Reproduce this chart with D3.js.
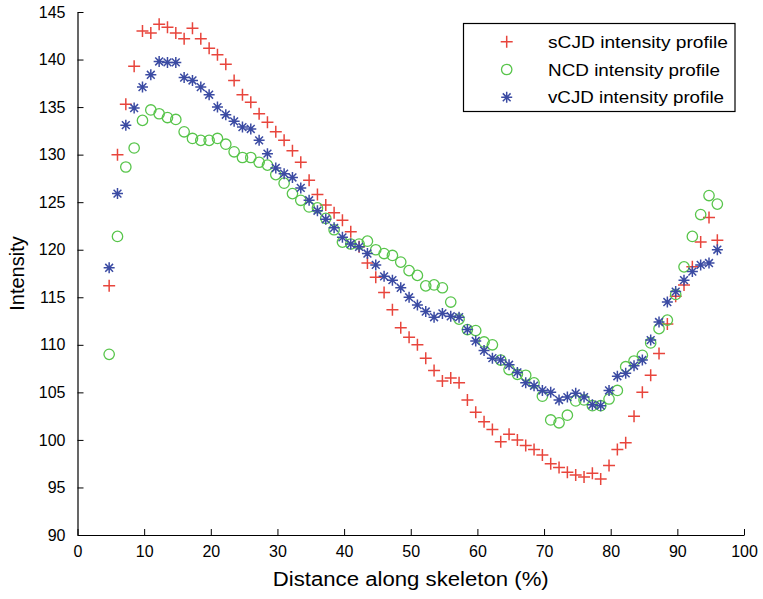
<!DOCTYPE html>
<html>
<head>
<meta charset="utf-8">
<script src="https://cdn.jsdelivr.net/npm/d3@7"></script>
<style>
  html, body { margin: 0; padding: 0; background: #fff; }
  svg { display: block; font-family: "Liberation Sans", Arial, Helvetica, sans-serif; }
</style>
</head>
<body>
<svg id="chart" width="763" height="599"></svg>
<script>
// Sample positions along the skeleton (%)
const distance = [4.75, 6, 7.25, 8.5, 9.75, 11, 12.25, 13.5, 14.75, 16,
  17.25, 18.5, 19.75, 21, 22.25, 23.5, 24.75, 26, 27.25, 28.5,
  29.75, 31, 32.25, 33.5, 34.75, 36, 37.25, 38.5, 39.75, 41,
  42.25, 43.5, 44.75, 46, 47.25, 48.5, 49.75, 51, 52.25, 53.5,
  54.75, 56, 57.25, 58.5, 59.75, 61, 62.25, 63.5, 64.75, 66,
  67.25, 68.5, 69.75, 71, 72.25, 73.5, 74.75, 76, 77.25, 78.5,
  79.75, 81, 82.25, 83.5, 84.75, 86, 87.25, 88.5, 89.75, 91,
  92.25, 93.5, 94.75, 96];

// Mean intensity profiles
const sCJD = [116.2, 130.0, 135.3, 139.3, 143.0, 142.8, 143.7, 143.4, 142.8, 142.2,
  143.3, 142.2, 141.2, 140.5, 139.5, 137.8, 136.3, 135.5, 134.3, 133.4,
  132.4, 131.5, 130.4, 129.2, 127.3, 125.8, 124.7, 123.9, 123.1, 121.9,
  120.3, 118.6, 117.1, 115.5, 113.7, 111.8, 110.8, 110.0, 108.6, 107.3,
  106.2, 106.5, 106.0, 104.2, 102.9, 101.9, 101.1, 99.8, 100.6, 100.0,
  99.4, 99.0, 98.4, 97.5, 97.1, 96.6, 96.3, 96.1, 96.5, 95.9,
  97.3, 99.0, 99.7, 102.5, 105.0, 106.8, 109.1, 112.2, 115.1, 116.3,
  118.2, 120.8, 123.4, 121.0];

const NCD = [109.0, 121.4, 128.7, 130.7, 133.6, 134.7, 134.3, 133.9, 133.7, 132.4,
  131.7, 131.5, 131.5, 131.7, 131.1, 130.3, 129.7, 129.7, 129.2, 128.9,
  127.9, 127.0, 125.9, 125.2, 124.5, 124.4, 123.3, 122.1, 120.8, 120.6,
  120.6, 120.9, 120.0, 119.6, 119.4, 118.7, 117.8, 117.3, 116.2, 116.3,
  116.0, 114.5, 112.7, 111.6, 111.5, 110.3, 110.0, 108.4, 107.4, 106.9,
  106.8, 106.0, 104.6, 102.1, 101.8, 102.6, 104.1, 104.2, 103.6, 103.6,
  104.3, 105.2, 107.7, 108.3, 108.9, 110.2, 111.7, 112.6, 115.3, 118.2,
  121.4, 123.7, 125.7, 124.8];

const vCJD = [118.1, 125.9, 133.1, 134.9, 137.1, 138.4, 139.8, 139.7, 139.7, 138.1,
  137.8, 137.1, 136.3, 135.0, 134.2, 133.5, 132.9, 132.7, 131.5, 130.1,
  128.6, 128.0, 127.6, 126.5, 125.2, 124.1, 123.2, 122.3, 121.3, 120.6,
  120.3, 119.6, 118.4, 117.2, 116.8, 116.0, 115.0, 114.2, 113.5, 112.9,
  113.3, 113.0, 112.9, 111.6, 110.4, 109.4, 108.6, 108.4, 107.9, 107.1,
  106.0, 105.7, 105.2, 105.0, 104.2, 104.5, 104.9, 104.5, 103.7, 103.6,
  105.2, 106.7, 107.0, 107.8, 108.4, 110.5, 112.4, 114.5, 115.6, 116.8,
  117.7, 118.4, 118.6, 120.0];

const xTicks = [0, 10, 20, 30, 40, 50, 60, 70, 80, 90, 100];
const yTicks = [90, 95, 100, 105, 110, 115, 120, 125, 130, 135, 140, 145];

const seriesNames = ["sCJD intensity profile", "NCD intensity profile", "vCJD intensity profile"];
const seriesColors = ["#e8453c", "#58c54b", "#3b4ba3"];
const seriesShapes = ["plus", "circle", "star"];
const seriesValues = [sCJD, NCD, vCJD];

const svg = d3.select("#chart");
const margin = { left: 77.5, right: 19, top: 12, bottom: 64 };
const W = 763, H = 599;

const x = d3.scaleLinear().domain([0, 100]).range([margin.left, W - margin.right]);
const y = d3.scaleLinear().domain([90, 145]).range([H - margin.bottom, margin.top]);

// Marker painters
function drawMarker(g, shape, color) {
  if (shape === "plus") {
    g.append("path").attr("d", "M-6,0H6M0,-6V6")
      .attr("stroke", color).attr("stroke-width", 1.5).attr("fill", "none");
  } else if (shape === "circle") {
    g.append("circle").attr("r", 5.2)
      .attr("stroke", color).attr("stroke-width", 1.3).attr("fill", "none");
  } else {
    g.append("path").attr("d", "M-5.5,0H5.5M0,-5.5V5.5M-3.9,-3.9L3.9,3.9M-3.9,3.9L3.9,-3.9")
      .attr("stroke", color).attr("stroke-width", 1.5).attr("fill", "none");
  }
}

// Series
seriesValues.forEach((vals, si) => {
  const g = svg.append("g").attr("class", "series-" + si);
  const pts = g.selectAll("g").data(distance.map((d, i) => [d, vals[i]]))
    .join("g")
    .attr("transform", d => `translate(${x(d[0])},${y(d[1])})`);
  pts.each(function () { drawMarker(d3.select(this), seriesShapes[si], seriesColors[si]); });
});

// Axes (ticks pointing into the plot)
const xAxis = d3.axisBottom(x).tickValues(xTicks).tickSizeInner(-6).tickSizeOuter(0).tickPadding(11);
const yAxis = d3.axisLeft(y).tickValues(yTicks).tickSizeInner(-6).tickSizeOuter(0).tickPadding(12);

const gx = svg.append("g").attr("transform", `translate(0,${H - margin.bottom})`).call(xAxis);
const gy = svg.append("g").attr("transform", `translate(${margin.left},0)`).call(yAxis);
[gx, gy].forEach(g => {
  g.select(".domain").attr("stroke", "#000").attr("stroke-width", 1.2);
  g.selectAll(".tick line").attr("stroke", "#000").attr("stroke-width", 1);
  g.selectAll(".tick text").attr("fill", "#000").attr("font-size", 16)
    .attr("font-family", "'Liberation Sans', Arial, sans-serif");
});

// Axis titles
svg.append("text")
  .attr("x", (x(0) + x(100)) / 2).attr("y", 586)
  .attr("text-anchor", "middle").attr("font-size", 20).attr("fill", "#000")
  .attr("textLength", 276).attr("lengthAdjust", "spacingAndGlyphs")
  .text("Distance along skeleton (%)");

svg.append("text")
  .attr("transform", `translate(24,${(y(90) + y(145)) / 2}) rotate(-90)`)
  .attr("text-anchor", "middle").attr("font-size", 20).attr("fill", "#000")
  .text("Intensity");

// Legend
const legend = svg.append("g").attr("class", "legend");
legend.append("rect")
  .attr("x", 463.5).attr("y", 23.5).attr("width", 271.5).attr("height", 88)
  .attr("fill", "#fff").attr("stroke", "#000").attr("stroke-width", 1.2);
const legendWidths = [180, 172, 176];
seriesNames.forEach((name, i) => {
  const row = legend.append("g").attr("transform", `translate(0,${41.7 + i * 27.8})`);
  const m = row.append("g").attr("transform", "translate(506.7,0)");
  drawMarker(m, seriesShapes[i], seriesColors[i]);
  row.append("text").attr("x", 548).attr("y", 6).attr("font-size", 17).attr("fill", "#000")
    .attr("textLength", legendWidths[i]).attr("lengthAdjust", "spacingAndGlyphs")
    .text(name);
});
</script>
</body>
</html>
